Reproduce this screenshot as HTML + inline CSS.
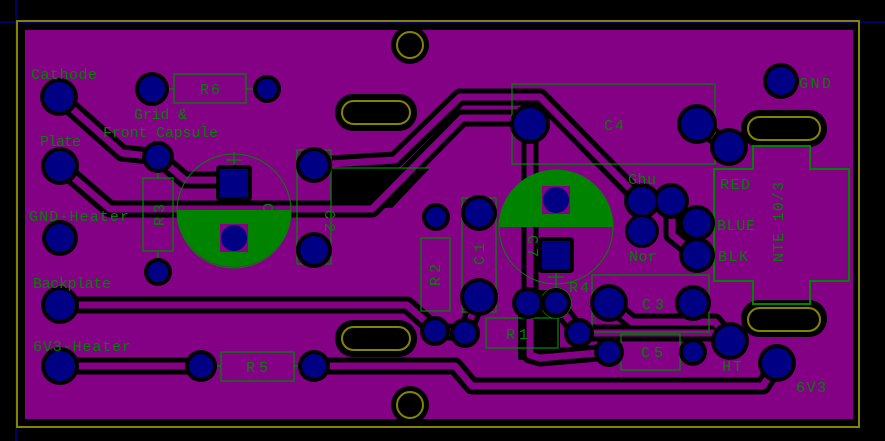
<!DOCTYPE html>
<html><head><meta charset="utf-8"><style>
html,body{margin:0;padding:0;background:#000;}
svg{display:block}
text{font-family:"Liberation Mono",monospace;fill:#008400;font-size:15px;}
</style></head><body>
<svg width="885" height="441" viewBox="0 0 885 441" xmlns="http://www.w3.org/2000/svg">
<rect width="885" height="441" fill="#000"/>
<line x1="0" y1="22" x2="885" y2="22" stroke="#0000c8" stroke-width="1"/>
<line x1="16" y1="0" x2="16" y2="441" stroke="#0000c8" stroke-width="1"/>
<rect x="17" y="21" width="842" height="406" fill="none" stroke="#848400" stroke-width="2"/>
<rect x="25" y="30" width="828" height="389" fill="#840084"/>

<!-- black fill region -->
<polygon points="331,168 430,168 392,208 331,208" fill="#000"/>
<rect x="518" y="290" width="42" height="70" fill="#000"/>

<!-- traces: clearance -->
<g fill="none" stroke="#000" stroke-width="17" stroke-linejoin="round" stroke-linecap="round">
<polyline points="59,97 122,153 158,157 185,180 234,180"/>
<polyline points="314,165 395,160 460,97 540,97 642,201"/>
<polyline points="60,166 110,209 372,209 462,118 530,118"/>
<polyline points="530,124 530,355 540,358 609,352"/>
<polyline points="697,124 729,147"/>
<polyline points="672,201 672,235 697,255"/>
<polyline points="60,305 407,305 435,330"/>
<polyline points="60,366 201,366"/>
<polyline points="314,366 455,366 472,386 763,386 777,363"/>
<polyline points="435,331 465,333 479,297"/>
<polyline points="556,303 579,333 715,333 730,341"/>
<polyline points="609,303 632,322 715,322 730,341"/>
<polyline points="234,210 234,238"/>
</g>
<g fill="none" stroke="#840084" stroke-width="7" stroke-linejoin="round" stroke-linecap="round">
<polyline points="59,97 122,153 158,157 185,180 234,180"/>
<polyline points="314,165 395,160 460,97 540,97 642,201"/>
<polyline points="60,166 110,209 372,209 462,118 530,118"/>
<polyline points="530,124 530,355 540,358 609,352"/>
<polyline points="697,124 729,147"/>
<polyline points="672,201 672,235 697,255"/>
<polyline points="60,305 407,305 435,330"/>
<polyline points="60,366 201,366"/>
<polyline points="314,366 455,366 472,386 763,386 777,363"/>
<polyline points="435,331 465,333 479,297"/>
<polyline points="556,303 579,333 715,333 730,341"/>
<polyline points="609,303 632,322 715,322 730,341"/>
</g>

<!-- holes and slots -->
<g fill="#000">
<circle cx="410" cy="45" r="19"/><circle cx="410" cy="405" r="19"/>
<rect x="335" y="94" width="82" height="37" rx="18"/>
<rect x="335" y="320" width="82" height="37" rx="18"/>
<rect x="741" y="110" width="86" height="37" rx="18"/>
<rect x="741" y="300" width="86" height="37" rx="18"/>
</g>
<g fill="none" stroke="#848400" stroke-width="2">
<circle cx="410" cy="45" r="13"/><circle cx="410" cy="405" r="13"/>
<rect x="342" y="101" width="68" height="23" rx="11.5"/>
<rect x="342" y="327" width="68" height="23" rx="11.5"/>
<rect x="748" y="117" width="72" height="23" rx="11.5"/>
<rect x="748" y="308" width="72" height="23" rx="11.5"/>
</g>

<!-- C6 and C7 capacitor shapes -->
<path d="M177,210 A57,57 0 0 0 291,210 Z" fill="#008400"/>
<circle cx="234" cy="211" r="57" fill="none" stroke="#008400" stroke-width="1"/>
<path d="M499,227 A57,57 0 0 1 613,227 Z" fill="#008400"/>
<circle cx="556" cy="227" r="57" fill="none" stroke="#008400" stroke-width="1"/>
<rect x="220" y="224" width="28" height="28" fill="#840084"/>
<rect x="542" y="186" width="28" height="28" fill="#840084"/>

<!-- silkscreen -->
<g fill="none" stroke="#008400" stroke-width="1.3">
<rect x="174" y="74" width="72" height="29"/>
<line x1="165" y1="89" x2="174" y2="89"/><line x1="246" y1="89" x2="258" y2="89"/>
<rect x="143" y="178" width="30" height="73"/>
<line x1="158" y1="170" x2="158" y2="178"/><line x1="158" y1="251" x2="158" y2="262"/>
<rect x="297" y="150" width="34" height="114"/>
<line x1="331" y1="168" x2="430" y2="168"/>
<rect x="221" y="352" width="73" height="29"/>
<line x1="212" y1="366" x2="221" y2="366"/><line x1="294" y1="366" x2="304" y2="366"/>
<rect x="421" y="238" width="29" height="73"/>
<rect x="462" y="198" width="34" height="114"/>
<rect x="512" y="84" width="203" height="80"/>
<rect x="486" y="318" width="72" height="30"/>
<rect x="592" y="275" width="117" height="57"/>
<rect x="621" y="334" width="59" height="36"/>
<circle cx="556" cy="303" r="15"/>
<line x1="234" y1="152" x2="234" y2="168"/><line x1="226" y1="160" x2="242" y2="160"/>
<line x1="556" y1="270" x2="556" y2="290"/><line x1="548" y1="277" x2="564" y2="277"/>
<polygon points="753,146 810,146 810,169 849,169 849,281 810,281 810,304 753,304 753,281 714,281 714,169 753,169" stroke-width="2"/>
</g>

<!-- pads -->
<g fill="#000">
<circle cx="59" cy="97" r="19"/><circle cx="152" cy="89" r="17"/><circle cx="267" cy="89" r="14"/>
<circle cx="60" cy="166" r="19"/><circle cx="158" cy="157" r="16"/><circle cx="158" cy="272" r="14"/>
<circle cx="60" cy="238" r="18"/><circle cx="60" cy="305" r="19"/><circle cx="60" cy="366" r="19"/>
<circle cx="201" cy="366" r="16"/><circle cx="314" cy="366" r="16"/>
<rect x="216" y="165" width="36" height="36" rx="4"/><circle cx="314" cy="165" r="18"/><circle cx="314" cy="250" r="18"/>
<circle cx="436" cy="217" r="14"/><circle cx="435" cy="331" r="15"/><circle cx="465" cy="333" r="15"/>
<circle cx="479" cy="213" r="18"/><circle cx="479" cy="297" r="19"/>
<circle cx="530" cy="124" r="20"/><circle cx="697" cy="124" r="20"/><circle cx="729" cy="147" r="19"/>
<circle cx="781" cy="81" r="18"/>
<rect x="538" y="237" width="36" height="36" rx="4"/>
<circle cx="642" cy="201" r="18"/><circle cx="671" cy="201" r="18"/><circle cx="697" cy="223" r="18"/>
<circle cx="642" cy="231" r="17"/><circle cx="697" cy="255" r="18"/>
<circle cx="528" cy="303" r="16"/><circle cx="556" cy="303" r="15"/>
<circle cx="609" cy="303" r="19"/><circle cx="693" cy="303" r="18"/>
<circle cx="579" cy="333" r="15"/><circle cx="609" cy="352" r="15"/><circle cx="693" cy="352" r="14"/>
<circle cx="730" cy="341" r="19"/><circle cx="777" cy="363" r="19"/>
</g>
<g fill="#000084">
<circle cx="59" cy="97" r="15"/><circle cx="152" cy="89" r="13"/><circle cx="267" cy="89" r="10"/>
<circle cx="60" cy="166" r="15"/><circle cx="158" cy="157" r="12"/><circle cx="158" cy="272" r="10"/>
<circle cx="60" cy="238" r="14"/><circle cx="60" cy="305" r="15"/><circle cx="60" cy="366" r="15"/>
<circle cx="201" cy="366" r="12"/><circle cx="314" cy="366" r="12"/>
<rect x="220" y="169" width="28" height="28"/><circle cx="234" cy="238" r="13"/>
<circle cx="314" cy="165" r="14"/><circle cx="314" cy="250" r="14"/>
<circle cx="436" cy="217" r="10"/><circle cx="435" cy="331" r="11"/><circle cx="465" cy="333" r="11"/>
<circle cx="479" cy="213" r="14"/><circle cx="479" cy="297" r="15"/>
<circle cx="530" cy="124" r="16"/><circle cx="697" cy="124" r="16"/><circle cx="729" cy="147" r="15"/>
<circle cx="781" cy="81" r="14"/>
<circle cx="556" cy="200" r="13"/><rect x="542" y="241" width="28" height="28"/>
<circle cx="642" cy="201" r="14"/><circle cx="671" cy="201" r="14"/><circle cx="697" cy="223" r="14"/>
<circle cx="642" cy="231" r="14"/><circle cx="697" cy="255" r="14"/>
<circle cx="528" cy="303" r="12"/><circle cx="556" cy="303" r="11"/>
<circle cx="609" cy="303" r="15"/><circle cx="693" cy="303" r="14"/>
<circle cx="579" cy="333" r="11"/><circle cx="609" cy="352" r="11"/><circle cx="693" cy="352" r="10"/>
<circle cx="730" cy="341" r="15"/><circle cx="777" cy="363" r="15"/>
</g>

<!-- labels -->
<text x="31" y="79" textLength="66">Cathode</text>
<text x="134" y="119" textLength="53">Grid &amp;</text>
<text x="103" y="137" textLength="115">Front Capsule</text>
<text x="40" y="146" textLength="41">Plate</text>
<text x="29" y="221" textLength="100">GND-Heater</text>
<text x="33" y="288" textLength="78">Backplate</text>
<text x="33" y="351" textLength="98">6V3-Heater</text>
<text x="200" y="94" textLength="20">R6</text>
<text x="246" y="372" textLength="22">R5</text>
<text x="506" y="339" textLength="22">R1</text>
<text x="641" y="357" textLength="22">C5</text>
<text x="642" y="309" textLength="22">C3</text>
<text x="604" y="130" textLength="20">C4</text>
<text x="569" y="292" textLength="20">R4</text>
<text x="628" y="184" textLength="28">Ghu</text>
<text x="629" y="261" textLength="28">Nor</text>
<text x="720" y="189" textLength="30">RED</text>
<text x="717" y="230" textLength="38">BLUE</text>
<text x="718" y="261" textLength="30">BLK</text>
<text x="799" y="88" textLength="32">GND</text>
<text x="722" y="371" textLength="20">HT</text>
<text x="796" y="392" textLength="30">6V3</text>
<g>
<text transform="translate(164,226) rotate(-90)" textLength="22">R3</text>
<text transform="translate(263,203) rotate(90)" textLength="22">C6</text>
<text transform="translate(325,210) rotate(90)" textLength="22">C2</text>
<text transform="translate(440,286) rotate(-90)" textLength="22">R2</text>
<text transform="translate(484,265) rotate(-90)" textLength="22">C1</text>
<text transform="translate(528,235) rotate(90)" textLength="22">C7</text>
<text transform="translate(783,262) rotate(-90)" textLength="80">NTE 10/3</text>
</g>
</svg>
</body></html>
